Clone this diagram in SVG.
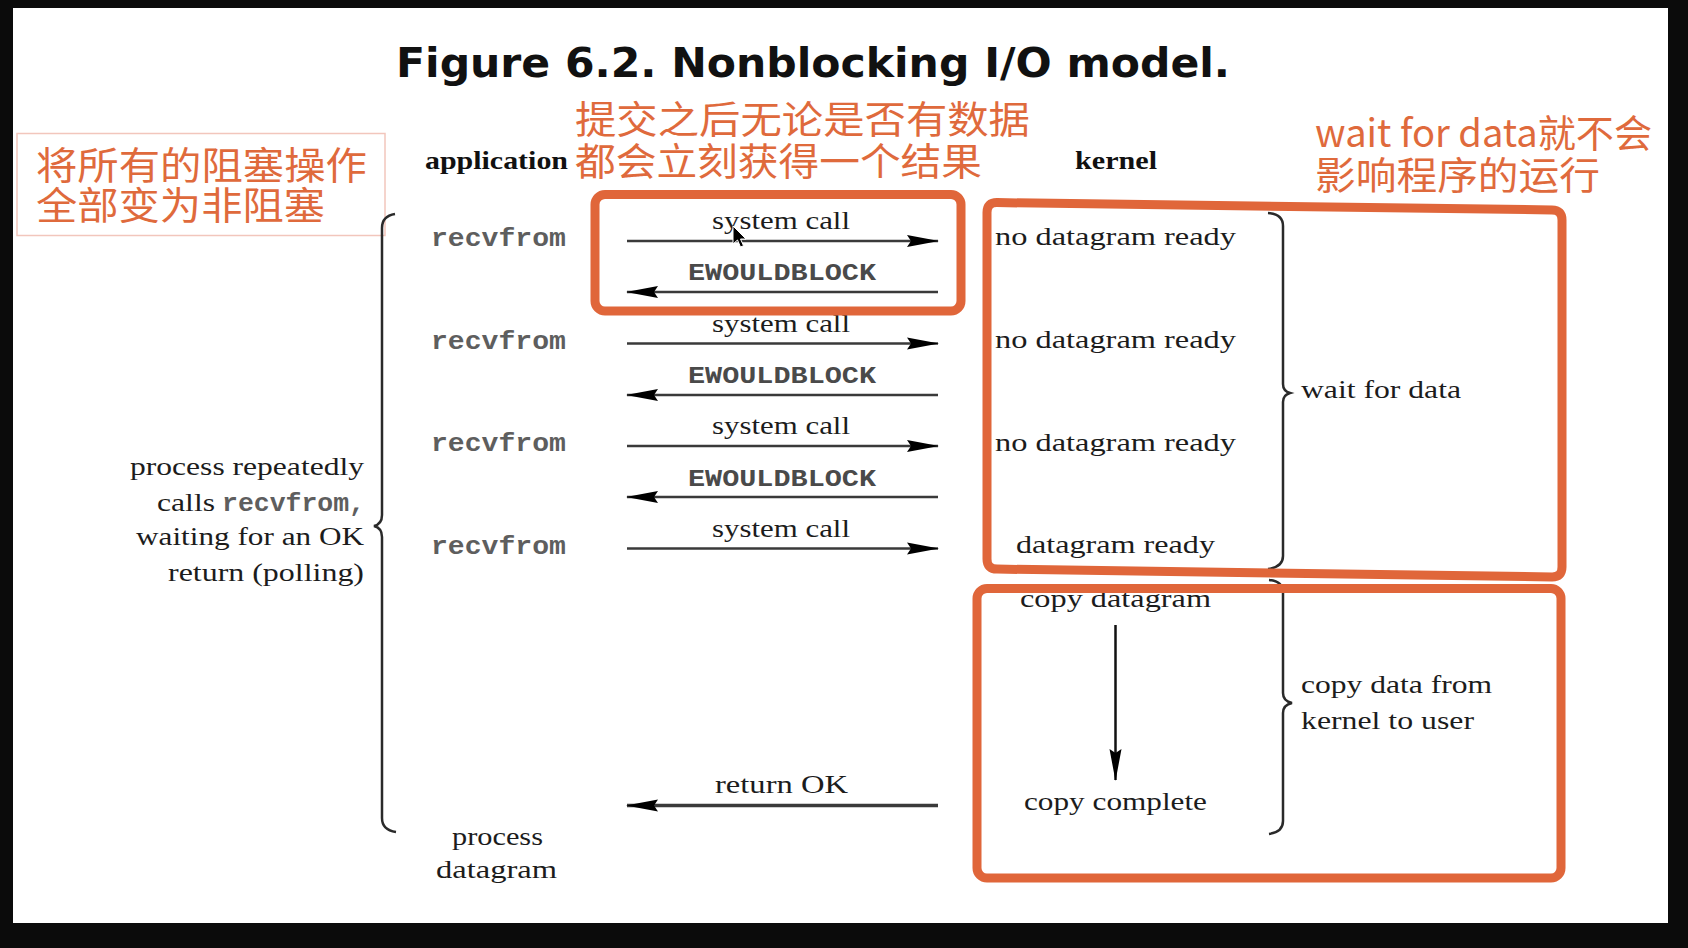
<svg xmlns="http://www.w3.org/2000/svg" width="1688" height="948" viewBox="0 0 1688 948">
<style>
.serif{font-family:"Liberation Serif","Times New Roman",serif;font-size:26px;fill:#1c1c1c}
.bserif{font-family:"Liberation Serif","Times New Roman",serif;font-size:26px;font-weight:bold;fill:#111}
.mono{font-family:"Liberation Mono","Courier New",monospace;font-size:26px;font-weight:bold;fill:#5e5e5e}
.ew{font-family:"Liberation Mono","Courier New",monospace;font-size:24px;font-weight:bold;fill:#4a4a4a}
.cjk{font-family:"Noto Sans CJK SC","Noto Sans",sans-serif;font-size:38px;fill:#df6a3c}
.title{font-family:"DejaVu Sans","Verdana",sans-serif;font-size:40px;font-weight:bold;fill:#111}
.arr{stroke:#3a3a3a;stroke-width:2.5;fill:none;marker-end:url(#ah)}
.brace{stroke:#2a2a2a;stroke-width:2.5;fill:none}
.obox{stroke:#e0663a;stroke-width:9;fill:none}
</style>
<defs>
<marker id="ah" markerUnits="userSpaceOnUse" markerWidth="32" markerHeight="14" viewBox="0 0 32 14" refX="31" refY="7" orient="auto">
<path d="M0,1 L32,7 L0,13 L4,7 Z" fill="#000"/>
</marker>
</defs>
<rect x="0" y="0" width="1688" height="948" fill="#0b0b0b"/>
<rect x="13" y="8" width="1655" height="915" fill="#fff"/>

<g id="title">
<text class="title" x="396" y="77" textLength="834" lengthAdjust="spacingAndGlyphs">Figure 6.2. Nonblocking I/O model.</text>
</g>

<g id="note-left">
<rect x="17" y="133.5" width="368" height="102" fill="none" stroke="#f2c6bc" stroke-width="1.5"/>
<text class="cjk" x="36" y="179" textLength="331" lengthAdjust="spacingAndGlyphs">将所有的阻塞操作</text>
<text class="cjk" x="36" y="219" textLength="289" lengthAdjust="spacingAndGlyphs">全部变为非阻塞</text>
</g>

<g id="note-middle">
<text class="cjk" x="575" y="133" textLength="455" lengthAdjust="spacingAndGlyphs">提交之后无论是否有数据</text>
<text class="cjk" x="575" y="175" textLength="407" lengthAdjust="spacingAndGlyphs">都会立刻获得一个结果</text>
</g>

<g id="note-right">
<text class="cjk" x="1315" y="147" textLength="337" lengthAdjust="spacingAndGlyphs">wait for data就不会</text>
<text class="cjk" x="1315" y="189" textLength="285" lengthAdjust="spacingAndGlyphs">影响程序的运行</text>
</g>

<g id="application">
<text class="bserif" x="425" y="169" textLength="143" lengthAdjust="spacingAndGlyphs">application</text>
<text class="mono" x="431" y="246" textLength="135" lengthAdjust="spacingAndGlyphs">recvfrom</text>
<text class="mono" x="431" y="349" textLength="135" lengthAdjust="spacingAndGlyphs">recvfrom</text>
<text class="mono" x="431" y="451" textLength="135" lengthAdjust="spacingAndGlyphs">recvfrom</text>
<text class="mono" x="431" y="554" textLength="135" lengthAdjust="spacingAndGlyphs">recvfrom</text>
<text class="serif" x="452" y="845" textLength="91" lengthAdjust="spacingAndGlyphs">process</text>
<text class="serif" x="436" y="878" textLength="121" lengthAdjust="spacingAndGlyphs">datagram</text>
</g>

<g id="polling-label">
<text class="serif" x="130" y="475" textLength="234" lengthAdjust="spacingAndGlyphs">process repeatedly</text>
<text x="157" y="511"><tspan class="serif" textLength="58" lengthAdjust="spacingAndGlyphs">calls</tspan><tspan class="mono" x="222" textLength="143" lengthAdjust="spacingAndGlyphs">recvfrom,</tspan></text>
<text class="serif" x="136" y="545" textLength="228" lengthAdjust="spacingAndGlyphs">waiting for an OK</text>
<text class="serif" x="168" y="581" textLength="196" lengthAdjust="spacingAndGlyphs">return (polling)</text>
</g>

<g id="kernel">
<text class="bserif" x="1075" y="169" textLength="82" lengthAdjust="spacingAndGlyphs">kernel</text>
<text class="serif" x="995" y="245" textLength="241" lengthAdjust="spacingAndGlyphs">no datagram ready</text>
<text class="serif" x="995" y="348" textLength="241" lengthAdjust="spacingAndGlyphs">no datagram ready</text>
<text class="serif" x="995" y="451" textLength="241" lengthAdjust="spacingAndGlyphs">no datagram ready</text>
<text class="serif" x="1016" y="553" textLength="199" lengthAdjust="spacingAndGlyphs">datagram ready</text>
<text class="serif" x="1020" y="607" textLength="191" lengthAdjust="spacingAndGlyphs">copy datagram</text>
<text class="serif" x="1024" y="810" textLength="183" lengthAdjust="spacingAndGlyphs">copy complete</text>
</g>

<g id="wait-for-data">
<text class="serif" x="1301" y="398" textLength="160" lengthAdjust="spacingAndGlyphs">wait for data</text>
</g>

<g id="copy-data">
<text class="serif" x="1301" y="693" textLength="191" lengthAdjust="spacingAndGlyphs">copy data from</text>
<text class="serif" x="1301" y="729" textLength="173" lengthAdjust="spacingAndGlyphs">kernel to user</text>
</g>

<g id="connectors">
<text class="serif" x="712" y="229" textLength="138" lengthAdjust="spacingAndGlyphs">system call</text>
<line class="arr" x1="627" y1="241" x2="938" y2="241"/>
<text class="ew" x="688" y="280" textLength="188" lengthAdjust="spacingAndGlyphs">EWOULDBLOCK</text>
<line class="arr" x1="938" y1="292" x2="627" y2="292"/>
<text class="serif" x="712" y="331.5" textLength="138" lengthAdjust="spacingAndGlyphs">system call</text>
<line class="arr" x1="627" y1="343.5" x2="938" y2="343.5"/>
<text class="ew" x="688" y="383" textLength="188" lengthAdjust="spacingAndGlyphs">EWOULDBLOCK</text>
<line class="arr" x1="938" y1="395" x2="627" y2="395"/>
<text class="serif" x="712" y="434" textLength="138" lengthAdjust="spacingAndGlyphs">system call</text>
<line class="arr" x1="627" y1="446" x2="938" y2="446"/>
<text class="ew" x="688" y="486" textLength="188" lengthAdjust="spacingAndGlyphs">EWOULDBLOCK</text>
<line class="arr" x1="938" y1="497" x2="627" y2="497"/>
<text class="serif" x="712" y="536.5" textLength="138" lengthAdjust="spacingAndGlyphs">system call</text>
<line class="arr" x1="627" y1="548.5" x2="938" y2="548.5"/>
<text class="serif" x="715" y="793" textLength="133" lengthAdjust="spacingAndGlyphs">return OK</text>
<line class="arr" x1="938" y1="805.5" x2="627" y2="805.5" style="stroke-width:3.5"/>
<line class="arr" x1="1115.5" y1="625" x2="1115.5" y2="780" style="stroke:#111"/>
</g>

<g id="braces">
<path class="brace" d="M395,214 Q382,216 382,228 L382,515 Q382,524 374,526 Q382,528 382,537 L382,818 Q382,830 396,832"/>
<path class="brace" d="M1268,213 Q1283,214 1283,226 L1283,384 Q1283,391 1290,393 Q1283,395 1283,402 L1283,556 Q1283,567 1268,569"/>
<path class="brace" d="M1269,580 Q1283,581 1283,593 L1283,693 Q1283,701 1292,703 Q1283,705 1283,713 L1283,821 Q1283,832 1269,834"/>
</g>

<g id="highlight-boxes">
<rect class="obox" x="595" y="194.5" width="366" height="116.5" rx="10"/>
<path class="obox" d="M997,202.6 L1552,209.9 Q1562,210 1562,220 L1562,567 Q1562,577 1552,576.9 L997,569.1 Q987,569 987,559 L987,212.5 Q987,202.5 997,202.6 Z"/>
<rect class="obox" x="977" y="588.5" width="584" height="289.5" rx="10"/>
</g>

<g id="cursor">
<path d="M733,226 L733,244 L737.5,240 L740.5,247 L743.5,245.7 L740.5,239 L746,239 Z" fill="#000" stroke="#fff" stroke-width="1"/>
</g>
</svg>
